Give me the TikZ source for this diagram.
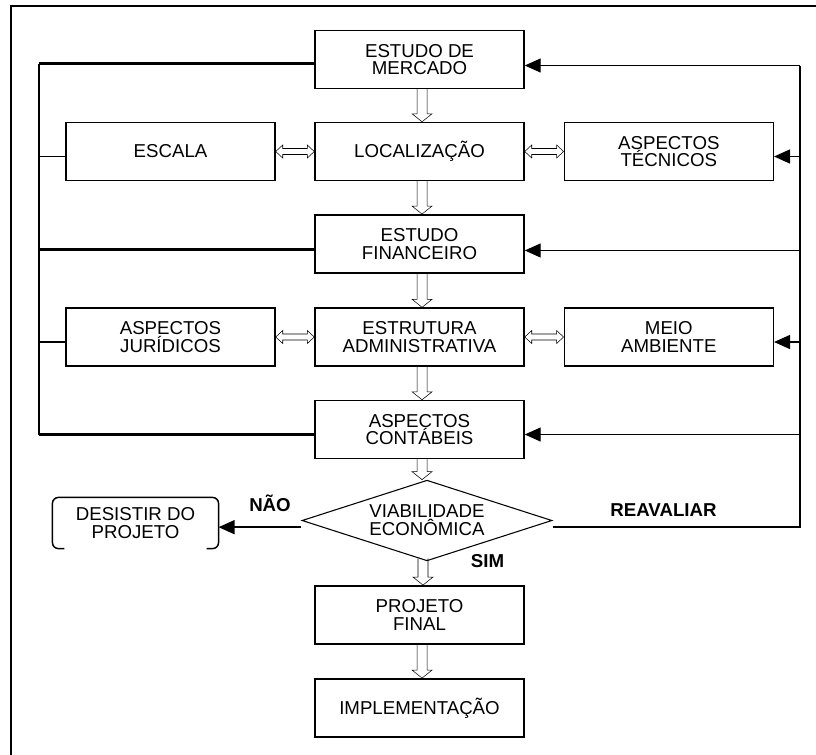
\documentclass[tikz,border=0pt]{standalone}
\usepackage{fontspec}
\setmainfont{Liberation Sans}
\usetikzlibrary{arrows.meta,shapes.geometric,calc}
\newcommand\dgfont{\fontsize{14pt}{13.3pt}\selectfont}

\begin{document}
\begin{tikzpicture}[x=0.75pt,y=-0.75pt,
  box/.style={draw, line width=1.1pt, minimum width=156.75pt, minimum height=43.5pt,
              inner sep=0pt, align=center, font=\dgfont},
  lbl/.style={font=\dgfont\bfseries, inner sep=0pt},
  link/.style={line width=1.1pt},
  heavy/.style={line width=2.3pt},
  bus/.style={line width=1.6pt},
  feed/.style={line width=1.1pt, -{Triangle[length=12pt,width=10.5pt]}},
  % hollow block arrow pointing down, shaft centred on the start point
  hollowdown/.style={line width=1.1pt, line join=miter, to path={
     let \p1=(\tikztostart), \p2=(\tikztotarget) in
     (\x1-3.75pt,\y1) -- (\x1-3.75pt,\y2+6pt) -- (\x1-7.5pt,\y2+6pt) -- (\x1,\y2)
     -- (\x1+7.5pt,\y2+6pt) -- (\x1+3.75pt,\y2+6pt) -- (\x1+3.75pt,\y1)}},
  % hollow double-headed block arrow, horizontal
  hollowboth/.style={line width=1pt, line join=miter, to path={
     let \p1=(\tikztostart), \p2=(\tikztotarget) in
     (\x1,\y1) -- (\x1+5.25pt,\y1+4.9pt) -- (\x1+5.25pt,\y1+2.25pt)
     -- (\x2-5.25pt,\y1+2.25pt) -- (\x2-5.25pt,\y1+4.9pt) -- (\x2,\y1)
     -- (\x2-5.25pt,\y1-4.9pt) -- (\x2-5.25pt,\y1-2.25pt)
     -- (\x1+5.25pt,\y1-2.25pt) -- (\x1+5.25pt,\y1-4.9pt) -- cycle}}
]
\useasboundingbox (0,0) rectangle (816,754);
\clip (0,0) rectangle (816,754);

% outer frame
\draw[line width=1.4pt] (11,780) -- (11,6) -- (840,6);

% central column
\node[box] (mercado)    at (419.5,59.5)  {ESTUDO DE\\MERCADO};
\node[box] (local)      at (419.5,151.5) {LOCALIZAÇÃO};
\node[box] (financeiro) at (419.5,243.8) {ESTUDO\\FINANCEIRO};
\node[box] (estrutura)  at (419.5,337)   {ESTRUTURA\\ADMINISTRATIVA};
\node[box] (contabeis)  at (419.5,429.5) {ASPECTOS\\CONTÁBEIS};
\node[draw, diamond, line width=0.8pt, minimum width=187.5pt, minimum height=60.5pt,
      shape aspect=3.1, inner sep=0pt, align=center, font=\dgfont]
      (dia) at (427,520.5) {VIABILIDADE\\ECONÔMICA};
\node[box] (final)      at (419.5,614.8) {PROJETO\\FINAL};
\node[box] (impl)       at (419.5,707.8) {IMPLEMENTAÇÃO};

% side boxes
\node[box] (escala)   at (170.5,151.5) {ESCALA};
\node[box] (juridicos) at (170.5,337)  {ASPECTOS\\JURÍDICOS};
\node[box] (tecnicos) at (668.8,151.5) {ASPECTOS\\TÉCNICOS};
\node[box] (meio)     at (668.8,337)   {MEIO\\AMBIENTE};

% abandon box: open bracket-like outline
\node[font=\dgfont, align=center, minimum width=124.2pt, minimum height=38pt, inner sep=0pt]
      (des) at (135.5,523) {DESISTIR DO\\PROJETO};
\draw[link, rounded corners=4.5pt] ([xshift=9pt]des.south west) -- (des.south west)
      -- (des.north west) -- (des.north east) -- (des.south east) -- ([xshift=-9pt]des.south east);

% decision labels
\node[lbl] (nao)  at (270,503)   {NÃO};
\node[lbl] (reav) at (663.5,510) {REAVALIAR};
\node[lbl] (sim)  at (487.5,561.5) {SIM};

% main flow
\draw ([xshift=1.9pt]mercado.south) to[hollowdown] (local.north);
\draw ([xshift=1.9pt]local.south) to[hollowdown] (financeiro.north);
\draw ([xshift=1.9pt]financeiro.south) to[hollowdown] (estrutura.north);
\draw ([xshift=1.9pt]estrutura.south) to[hollowdown] (contabeis.north);
\draw ([xshift=1.9pt]contabeis.south) to[hollowdown] (dia.north);
\draw ([xshift=-3pt,yshift=2pt]dia.south) to[hollowdown] (final.north);
\draw ([xshift=1.9pt]final.south) to[hollowdown] (impl.north);

% lateral exchanges
\draw (escala.east) to[hollowboth] (local.west);
\draw (local.east) to[hollowboth] (tecnicos.west);
\draw (juridicos.east) to[hollowboth] (estrutura.west);
\draw (estrutura.east) to[hollowboth] (meio.west);

% left collector
\coordinate (L) at (39,0);
\draw[bus] ([yshift=-3pt]mercado.west -| L) -- ([yshift=-3.75pt]contabeis.west -| L);
\draw[heavy] ([yshift=-3pt]mercado.west) -- ([yshift=-3pt]mercado.west -| L);
\draw[heavy] ([yshift=-4.5pt]financeiro.west) -- ([yshift=-4.5pt]financeiro.west -| L);
\draw[heavy] ([yshift=-3.75pt]contabeis.west) -- ([yshift=-3.75pt]contabeis.west -| L);
\draw[link] ([yshift=-3.75pt]escala.west) -- ([yshift=-3.75pt]escala.west -| L);
\draw[link] ([yshift=-3.75pt]juridicos.west) -- ([yshift=-3.75pt]juridicos.west -| L);

% re-evaluation loop on the right
\coordinate (R) at (800,0);
\draw[link] ([yshift=-5pt]dia.east) -- ([yshift=-5pt]dia.east -| R)
      -- ([yshift=-4.5pt]mercado.east -| R);
\draw[feed] ([yshift=-4.5pt]mercado.east -| R) -- ([yshift=-4.5pt]mercado.east);
\draw[feed] ([yshift=-3.75pt]tecnicos.east -| R) -- ([yshift=-3.75pt]tecnicos.east);
\draw[feed] ([yshift=-5pt]financeiro.east -| R) -- ([yshift=-5pt]financeiro.east);
\draw[feed] ([yshift=-3.75pt]meio.east -| R) -- ([yshift=-3.75pt]meio.east);
\draw[feed] ([yshift=-3.75pt]contabeis.east -| R) -- ([yshift=-3.75pt]contabeis.east);

% abandon branch
\draw[feed] ([yshift=-5pt]dia.west) -- ([yshift=-5pt]dia.west -| des.east);
\end{tikzpicture}
\end{document}
